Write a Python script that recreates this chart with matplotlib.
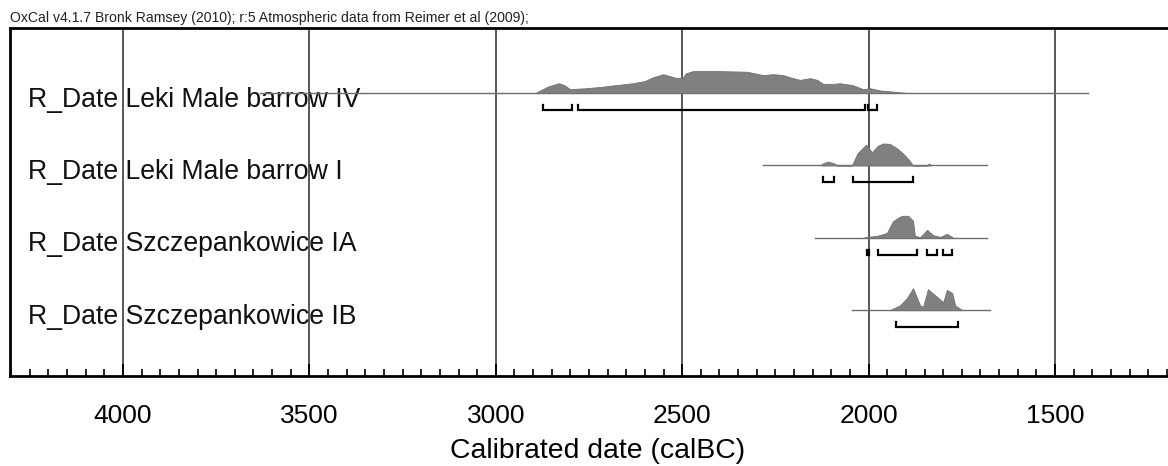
import numpy as np
import matplotlib.pyplot as plt
from matplotlib.ticker import MultipleLocator
import matplotlib.transforms as mtransforms

plt.rcParams['font.family'] = ['Liberation Sans', 'DejaVu Sans']

# =========================================================
# DATA (calBC)
# =========================================================

labels = [
    "R_Date Leki Male barrow IV",
    "R_Date Leki Male barrow I",
    "R_Date Szczepankowice IA",
    "R_Date Szczepankowice IB",
]

# extent of the thin baseline of each row
line_ranges = [
    (3632, 1411),
    (2283, 1682),
    (2144, 1682),
    (2045, 1674),
]

# probability curves (relative height, 1 = row maximum)
years_1 = [2895, 2860, 2830, 2815, 2801, 2760, 2720, 2680, 2632, 2600, 2578,
           2551, 2514, 2498, 2490, 2471, 2400, 2326, 2283, 2256, 2230, 2211,
           2184, 2157, 2138, 2122, 2095, 2077, 2042, 2015, 1996, 1969, 1916, 1894]
prob_1 = [0.0, 0.30, 0.45, 0.35, 0.18, 0.22, 0.28, 0.36, 0.45, 0.55, 0.72,
          0.86, 0.68, 0.72, 0.90, 1.0, 1.0, 0.97, 0.82, 0.86, 0.82, 0.72,
          0.60, 0.68, 0.60, 0.42, 0.42, 0.45, 0.36, 0.18, 0.22, 0.12, 0.04, 0.0]

years_2 = [2130, 2122, 2109, 2090, 2085, 2045, 2030, 2007, 1991, 1975, 1961,
           1943, 1924, 1908, 1894, 1881, 1845, 1838, 1832]
prob_2 = [0.0, 0.10, 0.18, 0.08, 0.0, 0.0, 0.55, 0.95, 0.60, 0.90, 1.0,
          0.98, 0.78, 0.55, 0.30, 0.0, 0.0, 0.09, 0.0]

years_3 = [2015, 2005, 1977, 1951, 1935, 1920, 1910, 1894, 1881, 1876, 1862,
           1843, 1827, 1808, 1790, 1776, 1774]
prob_3 = [0.0, 0.04, 0.09, 0.22, 0.75, 0.92, 1.0, 1.0, 0.78, 0.10, 0.02,
          0.36, 0.12, 0.04, 0.18, 0.04, 0.0]

years_4 = [1943, 1916, 1897, 1881, 1862, 1854, 1841, 1816, 1800, 1790, 1776,
           1768, 1749]
prob_4 = [0.0, 0.22, 0.55, 1.0, 0.22, 0.14, 0.95, 0.60, 0.36, 0.92, 0.78,
          0.22, 0.0]

all_years = [years_1, years_2, years_3, years_4]
all_probs = [prob_1, prob_2, prob_3, prob_4]

# 95.4% ranges shown as brackets under each curve
ranges_1 = [(2873, 2796), (2780, 2010), (2002, 1977)]
ranges_2 = [(2122, 2093), (2042, 1881)]
ranges_3 = [(2004, 2000), (1975, 1870), (1843, 1816), (1800, 1776)]
ranges_4 = [(1926, 1760)]

all_ranges = [ranges_1, ranges_2, ranges_3, ranges_4]

title = ("OxCal v4.1.7 Bronk Ramsey (2010); r:5 Atmospheric data from "
         "Reimer et al (2009);")


# =========================================================
# FIGURE
# =========================================================

W, H = 1168, 466
fig = plt.figure(figsize=(W / 100, H / 100), dpi=100)

ax_left, ax_top, ax_bottom = 10, 28, 376
ax = fig.add_axes([ax_left / W, 1 - ax_bottom / H,
                   1 - ax_left / W, (ax_bottom - ax_top) / H])

ax.set_xlim(4303, 1197)
ax.set_ylim(3.91, -0.90)

row_px = 72.3          # pixels per row
peak = 22 / row_px     # height of the curve maximum
gap = 17 / row_px      # bracket below the baseline
hook = 5 / row_px      # bracket end hooks

trans = mtransforms.blended_transform_factory(ax.transAxes, ax.transData)

for i in range(len(labels)):

    x0, x1 = line_ranges[i]
    ax.plot([x0, x1], [i, i], color="#6e6e6e", linewidth=1.0, zorder=2)

    yrs = np.array(all_years[i])
    pr = np.array(all_probs[i])
    ax.fill_between(yrs, i, i - pr * peak, color="#808080",
                    linewidth=0.6, edgecolor="#707070", zorder=3)

    for a, b in all_ranges[i]:
        yb = i + gap
        ax.plot([a, a, b, b], [yb - hook, yb, yb, yb - hook],
                color="black", linewidth=1.6, zorder=4,
                solid_joinstyle="miter")

    ax.text(18 / (W - ax_left), i + 6.5 / row_px, labels[i],
            transform=trans, fontsize=19.2, va="center", ha="left",
            color="#111111", zorder=1)

# vertical grid at major ticks
for xv in [4000, 3500, 3000, 2500, 2000, 1500]:
    ax.axvline(xv, color="#2a2a2a", linewidth=1.1, zorder=1)

ax.xaxis.set_major_locator(MultipleLocator(500))
ax.xaxis.set_minor_locator(MultipleLocator(50))
ax.tick_params(axis="x", which="major", direction="in", length=9,
               width=1.4, labelsize=19, pad=20)
ax.tick_params(axis="x", which="minor", direction="in", length=5, width=1.2)
ax.set_yticks([])

ax.spines["right"].set_visible(False)
for s in ["left", "top", "bottom"]:
    ax.spines[s].set_linewidth(2.0)

ax.set_xlabel("Calibrated date (calBC)", fontsize=20.4, labelpad=7)
ax.xaxis.label.set_x((598 - ax_left) / (W - ax_left))

fig.text(ax_left / W, 1 - 22 / H, title, fontsize=10.1, va="baseline",
         ha="left", color="#222222")

fig.savefig("out.png", dpi=100)
